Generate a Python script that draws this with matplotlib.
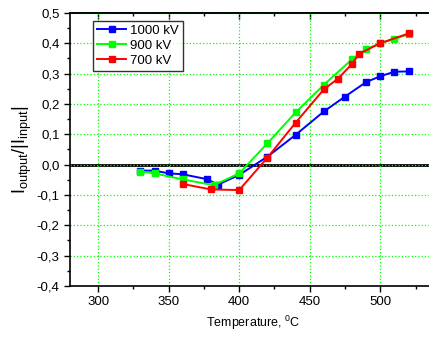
import matplotlib
matplotlib.use('Agg')
import matplotlib.pyplot as plt
from matplotlib.ticker import MultipleLocator, FuncFormatter

plt.rcParams['font.family'] = ['Liberation Sans', 'DejaVu Sans']
plt.rcParams['mathtext.fontset'] = 'custom'
plt.rcParams['mathtext.rm'] = 'Liberation Sans'

# data
t_1000 = [330, 340, 350, 360, 377, 385, 400, 420, 440, 460, 475, 490, 500, 510, 520]
v_1000 = [-0.020, -0.020, -0.029, -0.032, -0.048, -0.066, -0.034, 0.026, 0.098, 0.175, 0.224, 0.272, 0.291, 0.306, 0.307]

t_900 = [330, 340, 360, 382, 400, 420, 440, 460, 480, 490, 500, 510, 520]
v_900 = [-0.023, -0.029, -0.049, -0.068, -0.029, 0.070, 0.172, 0.263, 0.347, 0.380, 0.400, 0.413, 0.430]

t_700 = [360, 380, 400, 420, 440, 460, 470, 480, 485, 500, 520]
v_700 = [-0.064, -0.082, -0.084, 0.023, 0.138, 0.248, 0.283, 0.332, 0.365, 0.400, 0.432]

series = [
    ('1000 kV', t_1000, v_1000, '#0000ff'),
    ('900 kV', t_900, v_900, '#00ff00'),
    ('700 kV', t_700, v_700, '#ff0000'),
]

fig = plt.figure(figsize=(4.29, 3.38), dpi=100)
ax = fig.add_axes([0.163, 0.154, 0.855, 0.808])

ax.axhline(0, color='black', lw=2, zorder=1)
for name, t, v, c in series:
    ax.plot(t, v, color=c, lw=1.4, marker='s', markersize=5, label=name, zorder=3)

ax.set_xlim(280, 540)
ax.set_ylim(-0.4, 0.5)
ax.xaxis.set_major_locator(MultipleLocator(50))
ax.xaxis.set_minor_locator(MultipleLocator(25))
ax.yaxis.set_major_locator(MultipleLocator(0.1))
ax.yaxis.set_minor_locator(MultipleLocator(0.05))
ax.yaxis.set_major_formatter(FuncFormatter(lambda y, p: f'{y:.1f}'.replace('.', ',').replace('-0,0', '0,0')))

ax.grid(True, which='major', color='#00ff00', linestyle=':', lw=0.9)
ax.tick_params(which='both', direction='out', labelsize=9.5)
ax.tick_params(which='major', length=4, width=1)
ax.tick_params(which='minor', length=2.5, width=1)
for s in ax.spines.values():
    s.set_linewidth(1.2)

# top axis: ticks pointing inward, no labels
top = ax.secondary_xaxis('top')
top.xaxis.set_major_locator(MultipleLocator(50))
top.xaxis.set_minor_locator(MultipleLocator(25))
top.tick_params(which='both', direction='in', labeltop=False, width=1)
top.tick_params(which='major', length=4)
top.tick_params(which='minor', length=2.5)
top.spines['top'].set_linewidth(1.2)

ax.set_xlabel('Temperature, $\\mathregular{^0}$C', fontsize=9)
ax.set_ylabel('$\\mathregular{I_{output}/|I_{input}|}$', fontsize=13, labelpad=2)

leg = ax.legend(loc='upper left', bbox_to_anchor=(0.045, 0.995), fontsize=9.5, frameon=True,
                fancybox=False, edgecolor='black', handlelength=2.2, borderpad=0.3,
                labelspacing=0.2, handletextpad=0.3)
leg.get_frame().set_linewidth(1)

fig.savefig('out.png', dpi=100)
